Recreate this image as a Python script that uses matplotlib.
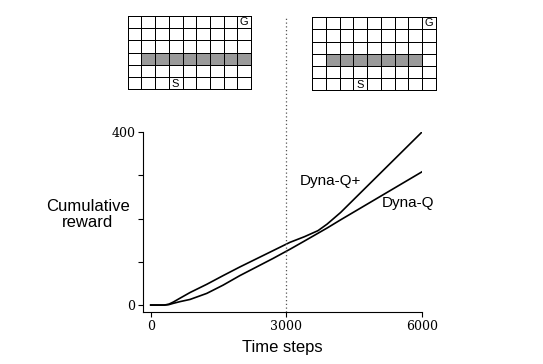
import matplotlib
matplotlib.use("Agg")
import matplotlib.pyplot as plt
import numpy as np
from matplotlib.colors import ListedColormap

# cumulative reward curves
steps = [0, 300, 400, 500, 650, 870, 1240, 1600, 1970, 2340, 2710, 3080,
         3400, 3700, 3900, 4200, 4800, 5400, 6000]
dyna_q = [0, 0, 1, 4, 8, 13, 27, 46, 68, 88, 108, 129,
          148, 166, 178, 197, 234, 271, 308]
dyna_q_plus = [0, 0, 2, 7, 16, 29, 48, 68, 88, 107, 126, 145,
               158, 172, 187, 214, 276, 338, 400]

x_ticks = [0, 3000, 6000]
y_ticks = [0, 100, 200, 300, 400]
y_ticklabels = ["0", "", "", "", "400"]

# maze: 6 rows x 9 cols, wall in row 3
n_rows, n_cols = 6, 9
wall_row = 3
wall_cols_before = [1, 2, 3, 4, 5, 6, 7, 8]
wall_cols_after = [1, 2, 3, 4, 5, 6, 7]
start_cell = (5, 3)
goal_cell = (0, 8)

fig = plt.figure(figsize=(5.43, 3.64), dpi=100)

ax = fig.add_axes([0.2634, 0.1429, 0.5138, 0.4945])
ax.plot(steps, dyna_q_plus, color="black", lw=1.2)
ax.plot(steps, dyna_q, color="black", lw=1.2)
ax.set_xlim(-170, 6000)
ax.set_ylim(-16, 400)
ax.spines["top"].set_visible(False)
ax.spines["right"].set_visible(False)
ax.set_xticks(x_ticks)
ax.set_yticks(y_ticks)
ax.set_yticklabels(y_ticklabels)
ax.tick_params(length=3.5, width=0.8, labelsize=9, pad=2)
for lab in ax.get_xticklabels() + ax.get_yticklabels():
    lab.set_family("DejaVu Serif")
ax.axvline(3000, ymin=0, ymax=1.644, color="#555555", lw=0.9,
           ls=(0, (1, 2)), clip_on=False)

ax.set_xlabel("Time steps", fontsize=12, family="Liberation Sans", labelpad=5)
fig.text(0.162, 0.41, "Cumulative\nreward", fontsize=12, family="Liberation Sans",
         ha="center", va="center", linespacing=1.05)
ax.text(3300, 287, "Dyna-Q+", fontsize=11, family="Liberation Sans", va="center")
ax.text(5110, 236, "Dyna-Q", fontsize=11, family="Liberation Sans", va="center")


def draw_maze(rect, wall_cols):
    g = fig.add_axes(rect)
    cells = np.zeros((n_rows, n_cols))
    cells[wall_row, wall_cols] = 1
    mesh = g.pcolormesh(cells, cmap=ListedColormap(["white", "#9a9a9a"]),
                        edgecolors="black", linewidth=0.5, vmin=0, vmax=1)
    mesh.set_clip_on(False)
    g.set_xlim(0, n_cols)
    g.set_ylim(n_rows, 0)
    g.axis("off")
    g.text(start_cell[1] + 0.5, start_cell[0] + 0.55, "S", ha="center",
           va="center", fontsize=8, family="Liberation Sans")
    g.text(goal_cell[1] + 0.5, goal_cell[0] + 0.5, "G", ha="center",
           va="center", fontsize=8, family="Liberation Sans")


draw_maze([0.2352, 0.7547, 0.2271, 0.2014], wall_cols_before)
draw_maze([0.5751, 0.7527, 0.2272, 0.1997], wall_cols_after)

fig.savefig("out.png", dpi=100)
